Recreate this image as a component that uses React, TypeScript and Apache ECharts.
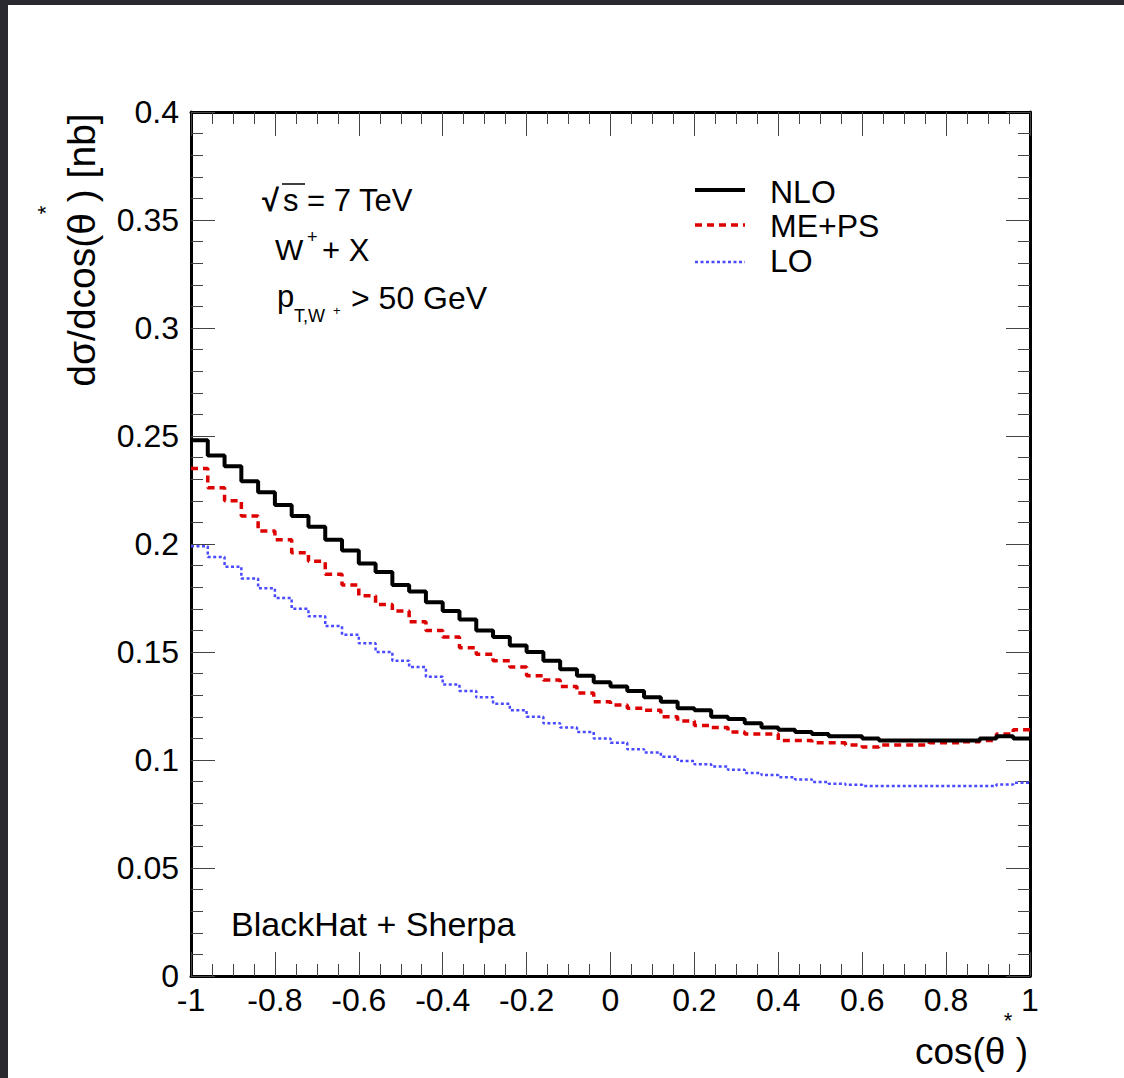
import React, { useEffect, useRef } from "react";
import * as echarts from "echarts";

// ---- data ----
const X_MIN = -1;
const X_MAX = 1;
const BIN_WIDTH = 0.04;
const X_TICKS = ["-1", "-0.8", "-0.6", "-0.4", "-0.2", "0", "0.2", "0.4", "0.6", "0.8", "1"];
const Y_TICKS = ["0", "0.05", "0.1", "0.15", "0.2", "0.25", "0.3", "0.35", "0.4"];

const NLO = [
  0.248, 0.241, 0.236, 0.229, 0.224, 0.218, 0.213, 0.208, 0.202, 0.197,
  0.191, 0.187, 0.181, 0.178, 0.173, 0.169, 0.165, 0.160, 0.157, 0.153,
  0.150, 0.146, 0.142, 0.139, 0.136, 0.134, 0.132, 0.129, 0.127, 0.124,
  0.123, 0.120, 0.119, 0.117, 0.115, 0.114, 0.113, 0.112, 0.111, 0.111,
  0.110, 0.109, 0.109, 0.109, 0.109, 0.109, 0.109, 0.110, 0.111, 0.110,
];
const MEPS = [
  0.235, 0.226, 0.220, 0.213, 0.206, 0.202, 0.196, 0.192, 0.186, 0.181,
  0.176, 0.172, 0.169, 0.164, 0.160, 0.157, 0.152, 0.149, 0.146, 0.143,
  0.139, 0.137, 0.134, 0.131, 0.127, 0.1255, 0.124, 0.123, 0.120, 0.118,
  0.116, 0.115, 0.113, 0.112, 0.112, 0.109, 0.109, 0.108, 0.108, 0.107,
  0.106, 0.107, 0.107, 0.107, 0.108, 0.108, 0.1085, 0.109, 0.112, 0.114,
];
const LO = [
  0.199, 0.194, 0.1895, 0.184, 0.1795, 0.175, 0.170, 0.1665, 0.162, 0.158,
  0.154, 0.150, 0.146, 0.143, 0.1385, 0.135, 0.132, 0.129, 0.126, 0.123,
  0.120, 0.117, 0.115, 0.113, 0.110, 0.108, 0.105, 0.1035, 0.1015, 0.0995,
  0.098, 0.097, 0.0955, 0.094, 0.093, 0.092, 0.091, 0.0898, 0.089, 0.0885,
  0.088, 0.088, 0.088, 0.088, 0.088, 0.088, 0.088, 0.088, 0.0887, 0.0895,
];

const FONT = "Liberation Sans, Arial, Helvetica, sans-serif";

function histPoints(values: number[]) {
  const pts: number[][] = values.map((v, i) => [+(X_MIN + i * BIN_WIDTH).toFixed(4), v]);
  pts.push([X_MAX, values[values.length - 1]]);
  return pts;
}

function fmtTick(list: string[]) {
  return (v: number) => {
    const s = String(+v.toFixed(2));
    const f = list.find((t) => +t === +s);
    return f !== undefined ? f : s;
  };
}

export default function App() {
  const ref = useRef<HTMLDivElement>(null);

  useEffect(() => {
    if (!ref.current) return;
    const chart = echarts.init(ref.current, undefined, { renderer: "svg" });

    const tickColor = "#444";
    const baseX = {
      type: "value",
      min: X_MIN,
      max: X_MAX,
      interval: 0.2,
      axisLine: { show: true, onZero: false, lineStyle: { color: "#000", width: 3 } },
      axisTick: { show: true, inside: true, length: 24, lineStyle: { color: tickColor, width: 1 } },
      minorTick: { show: true, splitNumber: 4, length: 12, lineStyle: { color: tickColor, width: 1 } },
      splitLine: { show: false },
      minorSplitLine: { show: false },
    };
    const baseY = {
      type: "value",
      min: 0,
      max: 0.4,
      interval: 0.05,
      axisLine: { show: true, onZero: false, lineStyle: { color: "#000", width: 3 } },
      axisTick: { show: true, inside: true, length: 24, lineStyle: { color: tickColor, width: 1 } },
      minorTick: { show: true, splitNumber: 5, length: 12, lineStyle: { color: tickColor, width: 1 } },
      splitLine: { show: false },
      minorSplitLine: { show: false },
    };

    const txt = (text: string, x: number, y: number, size: number, extra: any = {}) => ({
      type: "text",
      x,
      y,
      z: 100,
      ...extra,
      style: {
        text,
        fill: "#000",
        fontFamily: FONT,
        fontSize: size,
        align: "left",
        verticalAlign: "middle",
        ...(extra.style || {}),
      },
    });

    chart.setOption({
      animation: false,
      backgroundColor: "#fff",
      grid: { left: 191, top: 112, width: 839, height: 864, containLabel: false },
      xAxis: [
        {
          ...baseX,
          position: "bottom",
          axisLabel: {
            show: true,
            color: "#000",
            fontFamily: FONT,
            fontSize: 32,
            margin: 8,
            formatter: fmtTick(X_TICKS),
          },
        },
        { ...baseX, position: "top", axisLabel: { show: false } },
      ],
      yAxis: [
        {
          ...baseY,
          position: "left",
          axisLabel: {
            show: true,
            color: "#000",
            fontFamily: FONT,
            fontSize: 32,
            margin: 12,
            formatter: fmtTick(Y_TICKS),
          },
        },
        { ...baseY, position: "right", axisLabel: { show: false } },
      ],
      series: [
        {
          name: "LO",
          type: "line",
          step: "end",
          xAxisIndex: 0,
          yAxisIndex: 0,
          symbol: "none",
          data: histPoints(LO),
          lineStyle: { color: "#4a4aff", width: 2.5, type: [3, 2.5] },
          z: 3,
        },
        {
          name: "ME+PS",
          type: "line",
          step: "end",
          xAxisIndex: 0,
          yAxisIndex: 0,
          symbol: "none",
          data: histPoints(MEPS),
          lineStyle: { color: "#dd0000", width: 3.5, type: [7, 5] },
          z: 4,
        },
        {
          name: "NLO",
          type: "line",
          step: "end",
          xAxisIndex: 0,
          yAxisIndex: 0,
          symbol: "none",
          data: histPoints(NLO),
          lineStyle: { color: "#000", width: 4 },
          z: 5,
        },
      ],
      graphic: [
        // dark frame edges
        { type: "rect", shape: { x: 0, y: 0, width: 1124, height: 5 }, style: { fill: "#2a2930" }, z: 200 },
        { type: "rect", shape: { x: 0, y: 0, width: 8, height: 1078 }, style: { fill: "#2a2930" }, z: 200 },
        // y axis title
        txt("dσ/dcos(θ ) [nb]", 81, 250, 39, { rotation: Math.PI / 2, style: { align: "center" } }),
        txt("*", 45, 210, 22, { rotation: Math.PI / 2, style: { align: "center" } }),
        // x axis title
        txt("cos(θ )", 1028, 1051, 37, { style: { align: "right" } }),
        txt("*", 1008, 1020, 22, { style: { align: "center" } }),
        // annotations
        txt("√", 262, 200, 31, { style: { fontWeight: "bold" } }),
        { type: "line", shape: { x1: 282, y1: 184, x2: 305, y2: 184 }, style: { stroke: "#000", lineWidth: 1.5 }, z: 100 },
        txt("s = 7 TeV", 283, 200, 31),
        txt("W", 275, 249, 30),
        txt("+", 307, 237, 18),
        txt("+ X", 322, 250, 31),
        txt("p", 277, 296, 31),
        txt("T,W", 294, 316, 18),
        txt("+", 333, 310, 13),
        txt("> 50 GeV", 351, 298, 32),
        txt("BlackHat + Sherpa", 231, 924, 34),
        // legend
        { type: "line", shape: { x1: 695, y1: 190, x2: 745, y2: 190 }, style: { stroke: "#000", lineWidth: 4 }, z: 100 },
        { type: "line", shape: { x1: 695, y1: 225, x2: 745, y2: 225 }, style: { stroke: "#dd0000", lineWidth: 3.5, lineDash: [7, 5] }, z: 100 },
        { type: "line", shape: { x1: 695, y1: 262, x2: 745, y2: 262 }, style: { stroke: "#4a4aff", lineWidth: 2.5, lineDash: [3, 2.5] }, z: 100 },
        txt("NLO", 770, 192, 32),
        txt("ME+PS", 770, 226, 32),
        txt("LO", 770, 261, 32),
      ],
    });

    return () => chart.dispose();
  }, []);

  return (
    <div
      ref={ref}
      style={{ position: "fixed", left: 0, top: 0, width: 1124, height: 1078, background: "#fff" }}
    />
  );
}
